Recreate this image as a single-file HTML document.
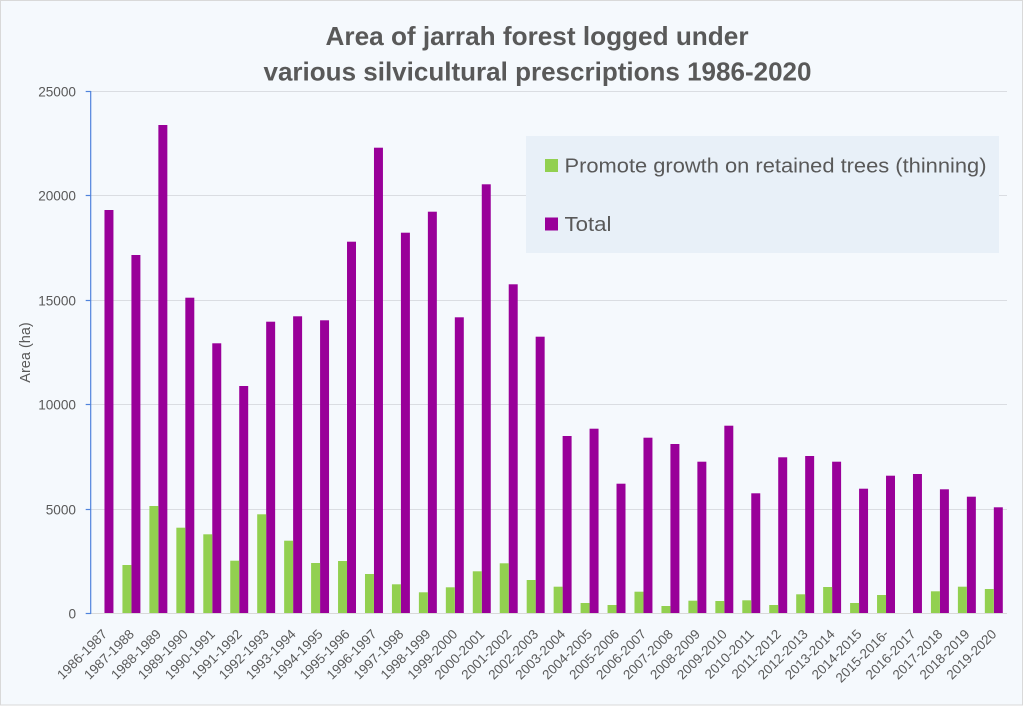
<!DOCTYPE html>
<html>
<head>
<meta charset="utf-8">
<style>
html,body{margin:0;padding:0;background:#ffffff;}
svg{display:block;}
text{font-family:"Liberation Sans",sans-serif;}
</style>
</head>
<body>
<svg width="1024" height="706" viewBox="0 0 1024 706" xmlns="http://www.w3.org/2000/svg">
<rect x="0" y="0" width="1024" height="706" fill="#ffffff"/>
<rect x="0.5" y="0.5" width="1022" height="704.5" fill="#f5f9fd" stroke="#d9d9d9" stroke-width="1"/>

<!-- Title -->
<text x="537" y="45" text-anchor="middle" font-size="26" font-weight="bold" fill="#595959" textLength="423" lengthAdjust="spacingAndGlyphs">Area of jarrah forest logged under</text>
<text x="537.5" y="80.5" text-anchor="middle" font-size="26" font-weight="bold" fill="#595959" textLength="548" lengthAdjust="spacingAndGlyphs">various silvicultural prescriptions 1986-2020</text>

<!-- Gridlines -->
<g stroke="#dadde2" stroke-width="1">
<line x1="91" y1="91.5" x2="1007" y2="91.5"/>
<line x1="91" y1="195.5" x2="1007" y2="195.5"/>
<line x1="91" y1="300.5" x2="1007" y2="300.5"/>
<line x1="91" y1="404.5" x2="1007" y2="404.5"/>
<line x1="91" y1="509.5" x2="1007" y2="509.5"/>
</g>

<!-- Legend box -->
<rect x="526" y="136" width="473" height="117" fill="#e8f0f8"/>
<rect x="545" y="159" width="13" height="13" fill="#92d050"/>
<text x="564.5" y="172.5" font-size="20" fill="#595959" textLength="422" lengthAdjust="spacingAndGlyphs">Promote growth on retained trees (thinning)</text>
<rect x="545" y="217.5" width="13" height="13" fill="#990099"/>
<text x="564.5" y="231" font-size="20" fill="#595959" textLength="47" lengthAdjust="spacingAndGlyphs">Total</text>

<!-- Purple bars (Total) -->
<g fill="#990099">
<rect x="104.47" y="210" width="8.98" height="403.5"/>
<rect x="131.42" y="255" width="8.98" height="358.5"/>
<rect x="158.37" y="125" width="8.98" height="488.5"/>
<rect x="185.32" y="297.7" width="8.98" height="315.8"/>
<rect x="212.27" y="343.3" width="8.98" height="270.2"/>
<rect x="239.22" y="386" width="8.98" height="227.5"/>
<rect x="266.17" y="321.7" width="8.98" height="291.8"/>
<rect x="293.12" y="316.3" width="8.98" height="297.2"/>
<rect x="320.07" y="320.3" width="8.98" height="293.2"/>
<rect x="347.02" y="241.7" width="8.98" height="371.8"/>
<rect x="373.97" y="147.7" width="8.98" height="465.8"/>
<rect x="400.92" y="232.7" width="8.98" height="380.8"/>
<rect x="427.87" y="211.7" width="8.98" height="401.8"/>
<rect x="454.82" y="317.3" width="8.98" height="296.2"/>
<rect x="481.77" y="184.3" width="8.98" height="429.2"/>
<rect x="508.72" y="284.3" width="8.98" height="329.2"/>
<rect x="535.67" y="336.7" width="8.98" height="276.8"/>
<rect x="562.62" y="436" width="8.98" height="177.5"/>
<rect x="589.57" y="428.7" width="8.98" height="184.8"/>
<rect x="616.52" y="483.7" width="8.98" height="129.8"/>
<rect x="643.47" y="437.7" width="8.98" height="175.8"/>
<rect x="670.42" y="444" width="8.98" height="169.5"/>
<rect x="697.37" y="461.7" width="8.98" height="151.8"/>
<rect x="724.32" y="425.7" width="8.98" height="187.8"/>
<rect x="751.27" y="493.3" width="8.98" height="120.2"/>
<rect x="778.22" y="457.3" width="8.98" height="156.2"/>
<rect x="805.17" y="456" width="8.98" height="157.5"/>
<rect x="832.12" y="461.7" width="8.98" height="151.8"/>
<rect x="859.07" y="488.7" width="8.98" height="124.8"/>
<rect x="886.02" y="475.7" width="8.98" height="137.8"/>
<rect x="912.97" y="474" width="8.98" height="139.5"/>
<rect x="939.92" y="489.3" width="8.98" height="124.2"/>
<rect x="966.87" y="496.7" width="8.98" height="116.8"/>
<rect x="993.82" y="507.3" width="8.98" height="106.2"/>
</g>

<!-- Green bars (thinning) -->
<g fill="#92d050">
<rect x="122.44" y="565" width="8.98" height="48.5"/>
<rect x="149.39" y="506" width="8.98" height="107.5"/>
<rect x="176.34" y="527.7" width="8.98" height="85.8"/>
<rect x="203.29" y="534.3" width="8.98" height="79.2"/>
<rect x="230.24" y="560.7" width="8.98" height="52.8"/>
<rect x="257.19" y="514.3" width="8.98" height="99.2"/>
<rect x="284.14" y="540.7" width="8.98" height="72.8"/>
<rect x="311.09" y="563" width="8.98" height="50.5"/>
<rect x="338.04" y="561" width="8.98" height="52.5"/>
<rect x="364.99" y="574" width="8.98" height="39.5"/>
<rect x="391.94" y="584.3" width="8.98" height="29.2"/>
<rect x="418.89" y="592.3" width="8.98" height="21.2"/>
<rect x="445.84" y="587.3" width="8.98" height="26.2"/>
<rect x="472.79" y="571.3" width="8.98" height="42.2"/>
<rect x="499.74" y="563.3" width="8.98" height="50.2"/>
<rect x="526.69" y="580" width="8.98" height="33.5"/>
<rect x="553.64" y="586.7" width="8.98" height="26.8"/>
<rect x="580.59" y="603" width="8.98" height="10.5"/>
<rect x="607.54" y="605" width="8.98" height="8.5"/>
<rect x="634.49" y="591.7" width="8.98" height="21.8"/>
<rect x="661.44" y="606" width="8.98" height="7.5"/>
<rect x="688.39" y="600.7" width="8.98" height="12.8"/>
<rect x="715.34" y="601" width="8.98" height="12.5"/>
<rect x="742.29" y="600.3" width="8.98" height="13.2"/>
<rect x="769.24" y="605" width="8.98" height="8.5"/>
<rect x="796.19" y="594.3" width="8.98" height="19.2"/>
<rect x="823.14" y="587" width="8.98" height="26.5"/>
<rect x="850.09" y="603" width="8.98" height="10.5"/>
<rect x="877.04" y="595" width="8.98" height="18.5"/>
<rect x="930.94" y="591.3" width="8.98" height="22.2"/>
<rect x="957.89" y="586.7" width="8.98" height="26.8"/>
<rect x="984.84" y="589" width="8.98" height="24.5"/>
</g>

<!-- Zero line -->
<line x1="91" y1="613.5" x2="1007" y2="613.5" stroke="#d9d9d9" stroke-width="1"/>

<!-- Y axis -->
<g stroke="#4f83dc" stroke-width="1.2">
<line x1="90.7" y1="91" x2="90.7" y2="614"/>
<line x1="85.7" y1="91.5" x2="91" y2="91.5"/>
<line x1="85.7" y1="195.5" x2="91" y2="195.5"/>
<line x1="85.7" y1="300.5" x2="91" y2="300.5"/>
<line x1="85.7" y1="404.5" x2="91" y2="404.5"/>
<line x1="85.7" y1="509.5" x2="91" y2="509.5"/>
<line x1="85.7" y1="613.5" x2="91" y2="613.5"/>
</g>

<!-- Y tick labels -->
<g font-size="13.6" fill="#595959" text-anchor="end">
<text x="76" y="96.5">25000</text>
<text x="76" y="200.5">20000</text>
<text x="76" y="305.5">15000</text>
<text x="76" y="409.5">10000</text>
<text x="76" y="514.5">5000</text>
<text x="76" y="618.5">0</text>
</g>

<!-- Y axis title -->
<text transform="translate(30,352.5) rotate(-90)" text-anchor="middle" font-size="14.5" fill="#595959">Area (ha)</text>

<!-- X labels -->
<g font-size="13.4" fill="#595959" text-anchor="end">
<text transform="translate(107.97,635) rotate(-45)">1986-1987</text>
<text transform="translate(134.92,635) rotate(-45)">1987-1988</text>
<text transform="translate(161.87,635) rotate(-45)">1988-1989</text>
<text transform="translate(188.82,635) rotate(-45)">1989-1990</text>
<text transform="translate(215.77,635) rotate(-45)">1990-1991</text>
<text transform="translate(242.72,635) rotate(-45)">1991-1992</text>
<text transform="translate(269.67,635) rotate(-45)">1992-1993</text>
<text transform="translate(296.62,635) rotate(-45)">1993-1994</text>
<text transform="translate(323.57,635) rotate(-45)">1994-1995</text>
<text transform="translate(350.52,635) rotate(-45)">1995-1996</text>
<text transform="translate(377.47,635) rotate(-45)">1996-1997</text>
<text transform="translate(404.42,635) rotate(-45)">1997-1998</text>
<text transform="translate(431.37,635) rotate(-45)">1998-1999</text>
<text transform="translate(458.32,635) rotate(-45)">1999-2000</text>
<text transform="translate(485.27,635) rotate(-45)">2000-2001</text>
<text transform="translate(512.22,635) rotate(-45)">2001-2002</text>
<text transform="translate(539.17,635) rotate(-45)">2002-2003</text>
<text transform="translate(566.12,635) rotate(-45)">2003-2004</text>
<text transform="translate(593.07,635) rotate(-45)">2004-2005</text>
<text transform="translate(620.02,635) rotate(-45)">2005-2006</text>
<text transform="translate(646.97,635) rotate(-45)">2006-2007</text>
<text transform="translate(673.92,635) rotate(-45)">2007-2008</text>
<text transform="translate(700.87,635) rotate(-45)">2008-2009</text>
<text transform="translate(727.82,635) rotate(-45)">2009-2010</text>
<text transform="translate(754.77,635) rotate(-45)">2010-2011</text>
<text transform="translate(781.72,635) rotate(-45)">2011-2012</text>
<text transform="translate(808.67,635) rotate(-45)">2012-2013</text>
<text transform="translate(835.62,635) rotate(-45)">2013-2014</text>
<text transform="translate(862.57,635) rotate(-45)">2014-2015</text>
<text transform="translate(889.52,635) rotate(-45)">2015-2016-</text>
<text transform="translate(916.47,635) rotate(-45)">2016-2017</text>
<text transform="translate(943.42,635) rotate(-45)">2017-2018</text>
<text transform="translate(970.37,635) rotate(-45)">2018-2019</text>
<text transform="translate(997.32,635) rotate(-45)">2019-2020</text>
</g>
</svg>
</body>
</html>
